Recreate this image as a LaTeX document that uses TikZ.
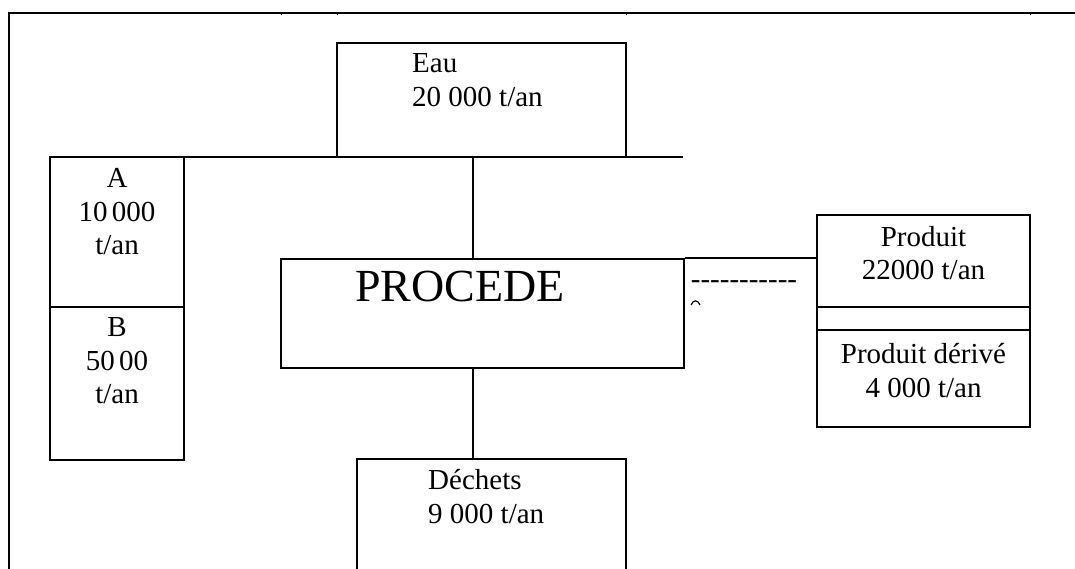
\documentclass[tikz,border=0pt]{standalone}
\usepackage{fontspec}
\setmainfont{Liberation Serif}
\begin{document}
\begin{tikzpicture}[x=1pt,y=-1pt,
  box/.style={draw, line width=1.6pt, inner sep=0pt, rectangle},
  ln/.style={line width=1.6pt},
  txt/.style={font=\fontsize{29}{33.5}\selectfont, align=center, inner sep=0pt},
  txtl/.style={font=\fontsize{29}{33.5}\selectfont, align=left, inner sep=0pt, anchor=west}]
\useasboundingbox (0,0) rectangle (1075,569);
% outer frame
\draw[ln] (9,569) -- (9,13) -- (1075,13);
\foreach \x in {281,337,626,1030} \draw[line width=1pt] (\x,13) -- (\x,15.5);
% Eau
\node[box, minimum width=289pt, minimum height=114pt] (eau) at (481.5,100) {};
\node[txtl] (eaut) at (412,80) {Eau\\20 000 t/an};
% horizontal bar
\coordinate (barl) at (50,157);
\coordinate (barr) at (683,157);
\coordinate (bar) at (473,157);
\draw[ln] (barl) -- (barr);
% A and B
\node[box, minimum width=134pt, minimum height=150pt] (a) at (117,232) {};
\node[box, minimum width=134pt, minimum height=153pt] (b) at (117,383.5) {};
\node[txt] (at) at (117,212) {A\\10\hspace{0.15em}000\\t/an};
\node[txt] (bt) at (117,361) {B\\50\hspace{0.15em}00\\t/an};
% PROCEDE
\node[box, minimum width=403pt, minimum height=109pt] (proc) at (482.5,313.5) {};
\node[font=\fontsize{46}{50}\selectfont, inner sep=0pt] (proct) at (460,286) {PROCEDE};
% Produit
\node[box, minimum width=213pt, minimum height=212pt] (prod) at (923.5,321) {};
\draw[line width=1.2pt] (817,307) -- (1030,307);
\draw[line width=1.2pt] (817,330) -- (1030,330);
\node[txt] (prodt) at (923.5,253) {Produit\\22000 t/an};
\node[txt] (derv) at (923.5,370.5) {Produit dérivé\\4 000 t/an};
% link PROCEDE -> Produit
\draw[ln] (proc.north east) -- (prod.west |- proc.north);
\node[font=\fontsize{29}{33}\selectfont, inner sep=0pt] (dash) at (744,285) {-{}-{}-{}-{}-{}-{}-{}-{}-{}-{}-{}};
\draw[line width=1.2pt] (691,305) .. controls (693,299.5) and (698,299.5) .. (700,305);
% Dechets
\coordinate (dech) at (491.5,459);
\draw[ln] (357,569) -- (357,459) -- (626,459) -- (626,569);
\node[txtl] (decht) at (428,496.5) {Déchets\\9 000 t/an};
% connectors
\draw[ln] (bar) -- (proc.north -| bar);
\draw[ln] (proc.south -| bar) -- (dech -| bar);
\end{tikzpicture}
\end{document}
